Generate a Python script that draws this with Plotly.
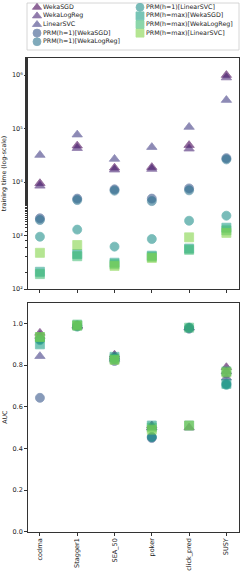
import plotly.graph_objects as go

datasets = ["codrna", "Stagger1", "SEA_50", "poker", "click_pred", "SUSY"]
series_names = [
    "WekaSGD", "WekaLogReg", "LinearSVC",
    "PRM(h=1)[WekaSGD]", "PRM(h=1)[WekaLogReg]", "PRM(h=1)[LinearSVC]",
    "PRM(h=max)[WekaSGD]", "PRM(h=max)[WekaLogReg]", "PRM(h=max)[LinearSVC]",
]

# training time (seconds, log scale)
time_weka_sgd = [9500, 48000, 18500, 19000, 49000, 1.0e6]
time_weka_logreg = [8500, 43000, 17000, 17500, 42000, 9.0e5]
time_linear_svc = [32000, 77000, 27000, 45000, 107000, 341000]
time_prm1_sgd = [2100, 4900, 7300, 4900, 7600, 28000]
time_prm1_logreg = [1950, 4600, 6900, 4400, 7000, 26500]
time_prm1_svc = [950, 1290, 620, 860, 1890, 2350]
time_prmmax_sgd = [210, 450, 310, 420, 570, 1400]
time_prmmax_logreg = [190, 410, 290, 400, 540, 1250]
time_prmmax_svc = [475, 665, 270, 380, 925, 1120]

# AUC
auc_weka_sgd = [0.955, 0.99, 0.85, 0.51, 0.50, 0.79]
auc_weka_logreg = [0.94, 0.99, 0.84, 0.50, 0.98, 0.77]
auc_linear_svc = [0.843, 0.985, 0.83, 0.50, 0.98, 0.74]
auc_prm1_sgd = [0.643, 0.99, 0.82, 0.45, 0.975, 0.76]
auc_prm1_logreg = [0.925, 0.99, 0.83, 0.455, 0.98, 0.71]
auc_prm1_svc = [0.92, 0.985, 0.83, 0.455, 0.98, 0.705]
auc_prmmax_sgd = [0.90, 0.99, 0.84, 0.51, 0.51, 0.71]
auc_prmmax_logreg = [0.935, 0.995, 0.83, 0.50, 0.98, 0.77]
auc_prmmax_svc = [0.935, 0.99, 0.825, 0.49, 0.51, 0.765]

# y tick labels of the time panel
time_tick_vals = [1e2, 1e3, 1e4, 1e5, 1e6]
time_tick_text = ["10²", "10³", "10⁴", "10⁵", "10⁶"]
auc_tick_vals = [0, 0.2, 0.4, 0.6, 0.8, 1.0]

times = [time_weka_sgd, time_weka_logreg, time_linear_svc, time_prm1_sgd, time_prm1_logreg,
         time_prm1_svc, time_prmmax_sgd, time_prmmax_logreg, time_prmmax_svc]
aucs = [auc_weka_sgd, auc_weka_logreg, auc_linear_svc, auc_prm1_sgd, auc_prm1_logreg,
        auc_prm1_svc, auc_prmmax_sgd, auc_prmmax_logreg, auc_prmmax_svc]

colors = ["#440154", "#482475", "#433e85", "#38588c", "#2c728e", "#21918c",
          "#1fa088", "#3fbc73", "#84d44b"]
symbols = ["triangle-up"] * 3 + ["circle"] * 3 + ["square"] * 3
OPAC = 0.6

W, H = 245, 572
FONT = "DejaVu Sans"
fig = go.Figure()

for name, t, a, c, s in zip(series_names, times, aucs, colors, symbols):
    mk = dict(symbol=s, size=9, color=c, opacity=OPAC, line=dict(color=c, width=0.8))
    fig.add_trace(go.Scatter(x=datasets, y=t, mode="markers", name=name, marker=mk,
                             showlegend=False, xaxis="x", yaxis="y"))
    fig.add_trace(go.Scatter(x=datasets, y=a, mode="markers", name=name, marker=mk,
                             showlegend=False, xaxis="x2", yaxis="y2"))

# legend drawn as a small scatter panel (2 columns x 5 rows)
lx, ly, ltext = [], [], []
for i, name in enumerate(series_names):
    col, row = i // 5, i % 5
    lx.append(10 + 103 * col)
    ly.append(4.3 + 8.6 * row)
    ltext.append(name)
fig.add_trace(go.Scatter(x=lx, y=ly, mode="markers", showlegend=False, hoverinfo="skip",
                         marker=dict(symbol=symbols, size=8, color=colors, opacity=OPAC,
                                     line=dict(color=colors, width=0.8)),
                         xaxis="x3", yaxis="y3"))
fig.add_trace(go.Scatter(x=[v + 6 for v in lx], y=ly, mode="text", text=ltext,
                         textposition="middle right", showlegend=False, hoverinfo="skip",
                         textfont=dict(family=FONT, size=6.3, color="#222"),
                         xaxis="x3", yaxis="y3"))

xdom = [28 / W, 238.7 / W]
axis_common = dict(showline=True, linecolor="#333", linewidth=0.8, mirror=True,
                   ticks="outside", ticklen=3, tickwidth=0.7, tickcolor="#333",
                   showgrid=False, zeroline=False,
                   tickfont=dict(family=FONT, size=6.5, color="#222"))

fig.update_layout(
    width=W, height=H, margin=dict(l=0, r=0, t=0, b=0),
    paper_bgcolor="white", plot_bgcolor="white",
    font=dict(family=FONT, size=6.5, color="#222"),
    xaxis=dict(domain=xdom, anchor="y", type="category", range=[-0.32, 5.33],
               showticklabels=False, **axis_common),
    yaxis=dict(domain=[1 - 289 / H, 1 - 58 / H], anchor="x", type="log", range=[2, 6.32],
               tickvals=time_tick_vals, ticktext=time_tick_text,
               minor=dict(ticks="outside", ticklen=1.8, tickwidth=0.5, tickcolor="#333",
                          showgrid=False),
               title=dict(text="training time (log-scale)", font=dict(family=FONT, size=6.3),
                          standoff=4),
               automargin=False, **axis_common),
    xaxis2=dict(domain=xdom, anchor="y2", type="category", range=[-0.32, 5.33],
                tickangle=-90, automargin=False, **axis_common),
    yaxis2=dict(domain=[1 - 531.7 / H, 1 - 302.7 / H], anchor="x2", range=[0, 1.1],
                tickvals=auc_tick_vals, tickformat=".1f",
                title=dict(text="AUC", font=dict(family=FONT, size=6.3), standoff=4),
                automargin=False, **axis_common),
    xaxis3=dict(domain=[27 / W, 239 / W], anchor="y3", range=[0, 212], visible=False,
                fixedrange=True),
    yaxis3=dict(domain=[1 - 50 / H, 1 - 3 / H], anchor="x3", range=[47, 0], visible=False,
                fixedrange=True),
    shapes=[dict(type="rect", xref="paper", yref="paper", x0=27 / W, x1=239 / W,
                 y0=1 - 50 / H, y1=1 - 3 / H, line=dict(color="#cccccc", width=0.8),
                 fillcolor="rgba(0,0,0,0)", layer="below")],
)

fig.write_html("out.html", config={"displayModeBar": False},
               post_script="document.body.style.margin='0';document.body.style.overflow='hidden';")
